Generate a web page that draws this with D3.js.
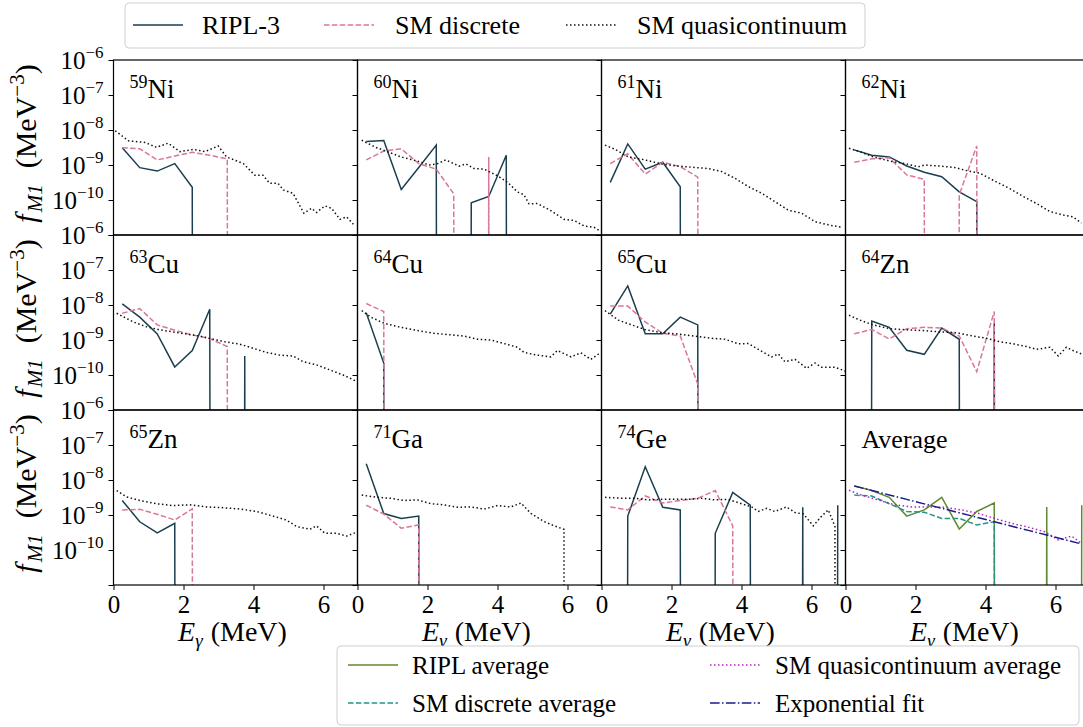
<!DOCTYPE html>
<html><head><meta charset="utf-8">
<script src="https://cdn.jsdelivr.net/npm/d3@7"></script>
<style>
body{margin:0;background:#fff}
svg{display:block}
</style>
</head><body>
<svg id="chart" width="1083" height="727"></svg>
<script>
// ---------------- data ----------------
const binE = [0.25,0.75,1.25,1.75,2.25,2.75,3.25,3.75,4.25,4.75,5.25,5.75,6.25,6.75];
const xTicks = [0,2,4,6];
const yTickExp = [-6,-7,-8,-9,-10];

// 59Ni
const ni59_ripl = [3.1e-9,8.4e-10,6.7e-10,1.1e-9,2.3e-10,0,0,0,0,0,0,0,0,0];
const ni59_smd  = [3.1e-9,2.9e-9,1.4e-9,1.8e-9,2.3e-9,1.9e-9,1.5e-9,0,0,0,0,0,0,0];
const ni59_qcE  = [0.05,0.43,0.90,1.23,1.56,1.90,2.28,2.61,2.99,3.23,3.71,4.04,4.27,4.46,4.70,4.85,5.13,5.44,5.66,5.80,6.04,6.23,6.47,6.66,6.90];
const ni59_qc   = [9.5e-9,4.9e-9,4.4e-9,3.2e-9,4.2e-9,2.4e-9,2.8e-9,2.4e-9,3.5e-9,1.7e-9,1.1e-9,5.1e-10,5.1e-10,3.0e-10,3.0e-10,1.95e-10,1.55e-10,4.2e-11,5.8e-11,4.4e-11,6.8e-11,5.8e-11,2.8e-11,3.3e-11,1.8e-11];

// 60Ni
const ni60_ripl = [4.7e-9,5.0e-9,2.0e-10,8.5e-10,3.7e-9,0,8.3e-11,1.26e-10,1.9e-9,0,0,0,0,0];
const ni60_smd  = [1.4e-9,2.5e-9,2.9e-9,1.1e-9,7.6e-10,1.5e-10,0,1.7e-9,0,0,0,0,0,0];
const ni60_qcE  = [0.12,0.52,0.86,1.24,1.71,2.05,2.27,2.52,2.90,3.10,3.33,3.62,4.00,4.29,4.57,4.76,4.90,5.14,5.52,5.90,6.19,6.48,6.76,6.95];
const ni60_qc   = [5.1e-9,3.2e-9,2.4e-9,1.7e-9,1.3e-9,1.0e-9,1.07e-9,1.4e-9,9.3e-10,1.07e-9,7.9e-10,7.6e-10,4.9e-10,3.2e-10,1.7e-10,1.4e-10,7.8e-11,7.9e-11,5.0e-11,2.8e-11,2.6e-11,1.8e-11,1.66e-11,1.26e-11];

// 61Ni
const ni61_ripl = [3.2e-10,4.0e-9,7.6e-10,1.2e-9,2.4e-10,0,0,0,0,0,0,0,0,0];
const ni61_smd  = [1.1e-9,2.1e-9,5.5e-10,1.2e-9,9.0e-10,4.5e-10,0,0,0,0,0,0,0,0];
const ni61_qcE  = [0.10,0.39,0.77,1.24,1.72,2.19,2.67,3.05,3.43,3.81,4.20,4.58,4.96,5.34,5.72,6.10,6.48,6.86];
const ni61_qc   = [3.7e-9,2.8e-9,1.7e-9,1.4e-9,1.07e-9,9.3e-10,8.5e-10,7.9e-10,6.5e-10,4.2e-10,2.4e-10,1.55e-10,8.9e-11,5.1e-11,4.2e-11,2.4e-11,1.95e-11,1.66e-11];

// 62Ni
const ni62_ripl = [2.7e-9,1.9e-9,1.7e-9,9.4e-10,6.2e-10,4.6e-10,1.7e-10,9.0e-11,0,0,0,0,0,0];
const ni62_smd  = [1.2e-9,1.5e-9,1.6e-9,5.2e-10,3.9e-10,0,1.4e-10,3.5e-9,0,0,0,0,0,0];
const ni62_qcE  = [0.10,0.41,0.79,1.27,1.74,2.08,2.27,2.70,3.12,3.46,3.84,4.31,4.70,5.08,5.46,5.84,6.22,6.50,6.74];
const ni62_qc   = [3.0e-9,2.4e-9,1.7e-9,1.3e-9,1.07e-9,8.9e-10,1.0e-9,9.3e-10,8.5e-10,6.9e-10,5.8e-10,3.3e-10,2.1e-10,1.26e-10,7.9e-11,4.7e-11,3.7e-11,3.3e-11,2.2e-11];

// 63Cu
const cu63_ripl = [1.07e-8,4.5e-9,1.5e-9,1.7e-10,5.0e-10,7.6e-9,0,3.5e-10,0,0,0,0,0,0];
const cu63_smd  = [5.8e-9,7.9e-9,2.7e-9,1.9e-9,1.4e-9,1.1e-9,6.5e-10,0,0,0,0,0,0,0];
const cu63_qcE  = [0.09,0.56,0.94,1.32,1.70,2.09,2.47,2.85,3.23,3.61,3.99,4.37,4.75,5.13,5.42,5.80,6.18,6.56,6.90];
const cu63_qc   = [5.8e-9,3.3e-9,2.4e-9,1.95e-9,1.7e-9,1.48e-9,1.29e-9,1.05e-9,8.7e-10,7.6e-10,5.8e-10,4.4e-10,3.7e-10,3.5e-10,2.4e-10,1.95e-10,1.4e-10,1.0e-10,6.9e-11];

// 64Cu
const cu64_ripl = [6.0e-9,2.2e-10,0,0,0,0,0,0,0,0,0,0,0,0];
const cu64_smd  = [1.1e-8,6.5e-9,0,0,0,0,0,0,0,0,0,0,0,0];
const cu64_qcE  = [0.12,0.38,0.76,1.24,1.71,2.19,2.67,3.05,3.43,3.81,4.19,4.57,4.76,5.14,5.52,5.71,6.10,6.38,6.67,6.95];
const cu64_qc   = [6.9e-9,4.5e-9,3.0e-9,2.3e-9,1.86e-9,1.55e-9,1.4e-9,1.29e-9,1.05e-9,1.0e-9,7.9e-10,6.2e-10,4.4e-10,3.7e-10,3.3e-10,5.0e-10,3.3e-10,4.3e-10,2.8e-10,4.4e-10];

// 65Cu
const cu65_ripl = [5.5e-9,3.5e-8,1.5e-9,1.5e-9,4.5e-9,2.7e-9,0,0,0,0,0,0,0,0];
const cu65_smd  = [9.3e-9,9.3e-9,3.3e-9,1.55e-9,1.3e-9,5.5e-11,0,0,0,0,0,0,0,0];
const cu65_qcE  = [0.10,0.48,0.86,1.24,1.72,2.19,2.67,3.15,3.53,3.91,4.20,4.48,4.86,5.05,5.24,5.53,5.86,6.10,6.29,6.67,6.96];
const cu65_qc   = [6.9e-9,3.7e-9,2.7e-9,2.0e-9,1.62e-9,1.48e-9,1.29e-9,1.12e-9,1.05e-9,7.8e-10,7.9e-10,5.4e-10,3.3e-10,4.0e-10,2.4e-10,2.8e-10,1.55e-10,2.2e-10,1.66e-10,1.66e-10,1.3e-10];

// 64Zn
const zn64_ripl = [0,3.5e-9,2.3e-9,5.1e-10,3.9e-10,2.2e-9,1.05e-9,0,3.0e-9,0,0,0,0,0];
const zn64_smd  = [1.5e-9,2.0e-9,1.07e-9,2.1e-9,2.3e-9,2.2e-9,1.3e-9,1.25e-10,6.5e-9,0,0,0,0,0];
const zn64_qcE  = [0.10,0.41,0.79,1.27,1.74,2.22,2.70,3.17,3.65,4.03,4.41,4.79,5.17,5.46,5.84,6.08,6.31,6.50,6.74];
const zn64_qc   = [5.1e-9,3.7e-9,2.7e-9,2.1e-9,1.95e-9,1.86e-9,1.7e-9,1.62e-9,1.29e-9,1.12e-9,8.9e-10,7.8e-10,6.5e-10,5.4e-10,6.2e-10,3.5e-10,6.2e-10,5.0e-10,4.0e-10];

// 65Zn
const zn65_ripl = [2.6e-9,6.4e-10,3.1e-10,5.8e-10,0,0,0,0,0,0,0,0,0,0];
const zn65_smd  = [1.4e-9,1.45e-9,1.05e-9,7.2e-10,1.5e-9,0,0,0,0,0,0,0,0,0];
const zn65_qcE  = [0.09,0.37,0.75,1.23,1.70,2.18,2.66,3.13,3.61,4.09,4.56,4.94,5.23,5.61,5.80,6.04,6.37,6.66,6.94];
const zn65_qc   = [5.0e-9,3.3e-9,2.6e-9,2.1e-9,1.86e-9,1.95e-9,1.7e-9,1.62e-9,1.48e-9,1.26e-9,9.3e-10,7.2e-10,4.7e-10,3.9e-10,4.9e-10,3.0e-10,3.0e-10,2.5e-10,3.2e-10];

// 71Ga
const ga71_ripl = [2.9e-8,1.1e-9,8.0e-10,9.3e-10,0,0,0,0,0,0,0,0,0,0];
const ga71_smd  = [1.9e-9,1.07e-9,4.2e-10,5.2e-10,0,0,0,0,0,0,0,0,0,0];
const ga71_qcE  = [0.12,0.57,0.95,1.33,1.71,2.10,2.48,2.86,3.24,3.62,4.00,4.38,4.67,4.95,5.33,5.62,5.90,6.10];
const ga71_qc   = [3.7e-9,3.2e-9,3.0e-9,2.6e-9,2.7e-9,2.1e-9,1.95e-9,1.66e-9,1.7e-9,1.48e-9,1.86e-9,1.7e-9,2.2e-9,1.12e-9,6.5e-10,4.9e-10,3.9e-10,0];

// 74Ge
const ge74_ripl = [0,9.3e-10,2.4e-8,1.66e-9,1.4e-9,0,3.0e-10,4.4e-9,1.9e-9,0,0,1.66e-9,0,1.9e-9];
const ge74_smd  = [1.7e-9,1.4e-9,3.5e-9,2.2e-9,2.6e-9,3.0e-9,5.0e-9,4.9e-10,0,0,0,0,0,0];
const ge74_qcE  = [0.10,0.58,0.96,1.34,1.72,2.10,2.48,2.86,3.24,3.62,4.00,4.29,4.48,4.72,4.95,5.29,5.53,5.77,6.05,6.29,6.48,6.67,6.90];
const ge74_qc   = [3.2e-9,3.0e-9,3.0e-9,2.7e-9,2.8e-9,2.8e-9,2.8e-9,3.0e-9,2.7e-9,2.8e-9,2.1e-9,1.7e-9,1.26e-9,1.55e-9,1.26e-9,1.7e-9,1.17e-9,1.07e-9,4.9e-10,9.3e-10,1.4e-9,4.7e-10,0];

// Average panel
const avg_ripl = [6.8e-9,5.0e-9,3.2e-9,9.3e-10,1.4e-9,3.2e-9,4.0e-10,1.26e-9,2.2e-9,0,0,1.7e-9,0,1.9e-9];
const avg_smd  = [3.7e-9,3.5e-9,2.1e-9,1.26e-9,1.2e-9,8.0e-10,8.0e-10,5.2e-10,6.4e-10,0,0,0,0,0];
const avg_qcE  = [0.10,0.46,0.93,1.41,1.89,2.36,2.84,3.31,3.79,4.27,4.74,5.22,5.70,6.08,6.46,6.74];
const avg_qc   = [5.1e-9,3.7e-9,2.7e-9,1.95e-9,1.7e-9,1.7e-9,1.66e-9,1.4e-9,1.12e-9,7.9e-10,5.8e-10,4.5e-10,3.3e-10,1.95e-10,2.5e-10,1.55e-10];
// exponential fit f = A * exp(-B * E)
const fitA = 7.8e-9;
const fitB = 0.587;

const nuclei = [
  {mass:"59", el:"Ni", ripl:ni59_ripl, smd:ni59_smd, qcE:ni59_qcE, qc:ni59_qc},
  {mass:"60", el:"Ni", ripl:ni60_ripl, smd:ni60_smd, qcE:ni60_qcE, qc:ni60_qc},
  {mass:"61", el:"Ni", ripl:ni61_ripl, smd:ni61_smd, qcE:ni61_qcE, qc:ni61_qc},
  {mass:"62", el:"Ni", ripl:ni62_ripl, smd:ni62_smd, qcE:ni62_qcE, qc:ni62_qc},
  {mass:"63", el:"Cu", ripl:cu63_ripl, smd:cu63_smd, qcE:cu63_qcE, qc:cu63_qc},
  {mass:"64", el:"Cu", ripl:cu64_ripl, smd:cu64_smd, qcE:cu64_qcE, qc:cu64_qc},
  {mass:"65", el:"Cu", ripl:cu65_ripl, smd:cu65_smd, qcE:cu65_qcE, qc:cu65_qc},
  {mass:"64", el:"Zn", ripl:zn64_ripl, smd:zn64_smd, qcE:zn64_qcE, qc:zn64_qc},
  {mass:"65", el:"Zn", ripl:zn65_ripl, smd:zn65_smd, qcE:zn65_qcE, qc:zn65_qc},
  {mass:"71", el:"Ga", ripl:ga71_ripl, smd:ga71_smd, qcE:ga71_qcE, qc:ga71_qc},
  {mass:"74", el:"Ge", ripl:ge74_ripl, smd:ge74_smd, qcE:ge74_qcE, qc:ge74_qc},
  {avg:true, name:"Average"}
];

// ---------------- styles ----------------
const C = {
  ripl:"#1b3f4f", smd:"#d9779a", qc:"#111111",
  rAvg:"#5f8a2f", sAvg:"#25958a", qAvg:"#b41fc2", fit:"#1c1c8a"
};
const DASH = "5.5,2.4", DOT = "1.5,2.5", DASHDOT = "9.6,2.4,1.5,2.4";
const FS = 25;      // tick labels
const FSUP = 17;    // superscripts
const FONT = "'Liberation Serif', 'Times New Roman', 'DejaVu Serif', serif";

// ---------------- layout ----------------
const svg = d3.select("#chart").attr("font-family", FONT);
const L0 = 113.5, PW = 244, T0 = 60, PH = 175;
const xMax = PW / 35;
const defs = svg.append("defs");

function T(sel){ return sel.append("text").attr("font-family", FONT).attr("fill", "#000"); }

nuclei.forEach((p, i) => {
  const c = i % 4, r = Math.floor(i / 4);
  const left = L0 + c * PW, top = T0 + r * PH;
  const x = d3.scaleLinear().domain([0, xMax]).range([left, left + PW]);
  const y = d3.scaleLog().domain([1e-11, 1e-6]).range([top + PH, top]);
  const yv = v => v > 0 ? y(v) : y(1e-300);

  defs.append("clipPath").attr("id", "clip" + i)
    .append("rect").attr("x", left).attr("y", top).attr("width", PW).attr("height", PH);
  const g = svg.append("g").attr("clip-path", `url(#clip${i})`);

  const line = d3.line().x(d => x(d[0])).y(d => yv(d[1]));
  const draw = (pts, color, dash, w) => g.append("path").datum(pts)
      .attr("d", line).attr("fill", "none").attr("stroke", color)
      .attr("stroke-width", w || 1.5).attr("stroke-dasharray", dash)
      .attr("stroke-linejoin", "miter");

  if (!p.avg) {
    draw(binE.map((e, k) => [e, p.ripl[k]]), C.ripl, null);
    draw(binE.map((e, k) => [e, p.smd[k]]), C.smd, DASH);
    draw(p.qcE.map((e, k) => [e, p.qc[k]]), C.qc, DOT);
  } else {
    draw(binE.map((e, k) => [e, avg_ripl[k]]), C.rAvg, null);
    draw(binE.map((e, k) => [e, avg_smd[k]]), C.sAvg, DASH);
    draw(avg_qcE.map((e, k) => [e, avg_qc[k]]), C.qAvg, DOT);
    draw(binE.map(e => [e, fitA * Math.exp(-fitB * e)]), C.fit, DASHDOT);
  }

  // y axis (ticks outward)
  const ya = svg.append("g").attr("transform", `translate(${left},0)`)
    .call(d3.axisLeft(y).tickValues([1e-6,1e-7,1e-8,1e-9,1e-10,1e-11]).tickSize(5).tickFormat(""));
  ya.select(".domain").remove();
  ya.selectAll(".tick line").attr("stroke", "#000").attr("stroke-width", 1);
  if (c === 0) {
    yTickExp.forEach(ex => {
      const t = T(svg).attr("x", left - 10).attr("y", y(Math.pow(10, ex)) + 9)
        .attr("text-anchor", "end");
      t.append("tspan").text("10").attr("font-size", FS);
      t.append("tspan").text("\u2212" + (-ex)).attr("font-size", FSUP).attr("dy", -11);
    });
  }
  // x axis on bottom row
  if (r === 2) {
    const xa = svg.append("g").attr("transform", `translate(0,${top + PH})`)
      .call(d3.axisBottom(x).tickValues(xTicks).tickSize(5).tickPadding(5).tickFormat(d3.format("d")));
    xa.attr("font-family", FONT);
    xa.select(".domain").remove();
    xa.selectAll(".tick line").attr("stroke", "#000");
    xa.selectAll(".tick text").attr("font-size", FS).attr("font-family", FONT).attr("fill", "#000");
    const xl = T(svg).attr("x", left + PW / 2 - 3).attr("y", top + PH + 56).attr("text-anchor", "middle");
    xl.append("tspan").text("E").attr("font-style", "italic").attr("font-size", 28);
    xl.append("tspan").text("\u03b3").attr("font-style", "italic").attr("font-size", 19).attr("dy", 6);
    xl.append("tspan").text("(MeV)").attr("font-size", 28).attr("dy", -6).attr("dx", 8);
  }

  // frame
  svg.append("rect").attr("x", left).attr("y", top).attr("width", PW).attr("height", PH)
    .attr("fill", "none").attr("stroke", "#000").attr("stroke-width", 1.2);

  // panel title
  const tt = T(svg).attr("x", left + 16).attr("y", top + 38);
  if (p.avg) {
    tt.append("tspan").text(p.name).attr("font-size", 26);
  } else {
    tt.append("tspan").text(p.mass).attr("font-size", 18).attr("dy", -10);
    tt.append("tspan").text(p.el).attr("font-size", 27).attr("dy", 10);
  }

  // y label per row
  if (c === 0) {
    const cy = top + PH / 2;
    const yl = T(svg).attr("transform", `translate(36,${cy - 4}) rotate(-90)`).attr("text-anchor", "middle");
    yl.append("tspan").text("f").attr("font-style", "italic").attr("font-size", 30);
    yl.append("tspan").text("M1").attr("font-style", "italic").attr("font-size", 21).attr("dy", 6).attr("dx", 2);
    yl.append("tspan").text("(MeV").attr("font-size", 30).attr("dy", -6).attr("dx", 16);
    yl.append("tspan").text("\u22123").attr("font-size", 21).attr("dy", -12);
    yl.append("tspan").text(")").attr("font-size", 30).attr("dy", 12);
  }
});

// ---------------- top legend ----------------
const topLeg = [
  {label:"RIPL-3", color:C.ripl, dash:null, lx:133, tx:202},
  {label:"SM discrete", color:C.smd, dash:DASH, lx:324, tx:395},
  {label:"SM quasicontinuum", color:C.qc, dash:DOT, lx:566, tx:637}
];
svg.append("rect").attr("x", 125).attr("y", 3).attr("width", 740).attr("height", 45).attr("rx", 4)
  .attr("fill", "#fff").attr("stroke", "#d0d0d0").attr("stroke-width", 1);
topLeg.forEach(d => {
  svg.append("line").attr("x1", d.lx).attr("x2", d.lx + 50).attr("y1", 25).attr("y2", 25)
    .attr("stroke", d.color).attr("stroke-width", 1.5).attr("stroke-dasharray", d.dash);
  T(svg).attr("x", d.tx).attr("y", 34).attr("font-size", 26).text(d.label);
});

// ---------------- bottom legend ----------------
const botLeg = [
  {label:"RIPL average", color:C.rAvg, dash:null, lx:348, tx:412, y:674},
  {label:"SM discrete average", color:C.sAvg, dash:DASH, lx:348, tx:412, y:712},
  {label:"SM quasicontinuum average", color:C.qAvg, dash:DOT, lx:710, tx:775, y:674},
  {label:"Exponential fit", color:C.fit, dash:DASHDOT, lx:710, tx:775, y:712}
];
svg.append("rect").attr("x", 337).attr("y", 646).attr("width", 742).attr("height", 79).attr("rx", 4)
  .attr("fill", "#fff").attr("stroke", "#d0d0d0").attr("stroke-width", 1);
botLeg.forEach(d => {
  svg.append("line").attr("x1", d.lx).attr("x2", d.lx + 50).attr("y1", d.y - 9).attr("y2", d.y - 9)
    .attr("stroke", d.color).attr("stroke-width", 1.5).attr("stroke-dasharray", d.dash);
  T(svg).attr("x", d.tx).attr("y", d.y).attr("font-size", 25).text(d.label);
});
</script>
</body></html>
